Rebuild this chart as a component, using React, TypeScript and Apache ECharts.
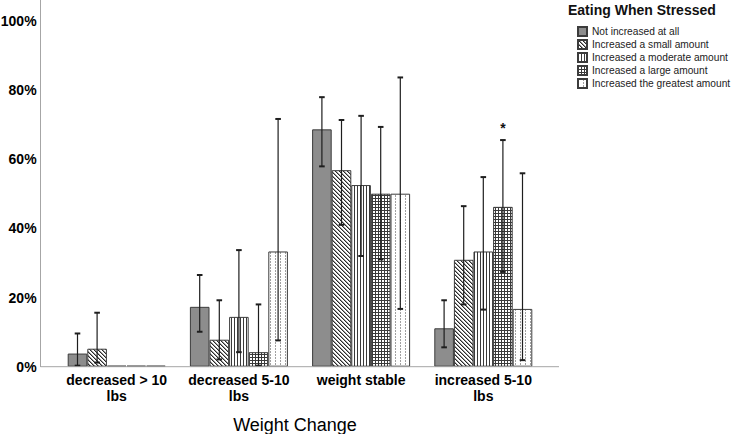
import React, { useEffect, useRef } from "react";
import * as echarts from "echarts";

const categories = ["decreased > 10\nlbs", "decreased 5-10\nlbs", "weight stable", "increased 5-10\nlbs"];
const seriesNames = [
  "Not increased at all",
  "Increased a small amount",
  "Increased a moderate amount",
  "Increased a large amount",
  "Increased the greatest amount",
];
const notIncreased = [3.8, 17.3, 68.6, 11.1];
const smallAmount = [5.2, 7.8, 56.8, 30.9];
const moderateAmount = [0, 14.4, 52.5, 33.3];
const largeAmount = [0, 4.2, 50.0, 46.2];
const greatestAmount = [0, 33.3, 50.0, 16.7];

const notIncreasedCI = [[0.3, 9.6], [10.1, 26.5], [57.9, 77.9], [5.6, 19.2]];
const smallCI = [[1.2, 15.6], [2.1, 19.2], [41.0, 71.3], [18.0, 46.4]];
const moderateCI = [null, [4.2, 33.7], [32.0, 72.5], [16.5, 54.8]];
const largeCI = [null, [0.3, 18.0], [31.0, 69.3], [27.4, 65.5]];
const greatestCI = [null, [7.6, 71.6], [16.7, 83.6], [1.9, 55.9]];

const significance = [
  ["", "", "", ""],
  ["", "", "", ""],
  ["", "", "", ""],
  ["", "", "", "*"],
  ["", "", "", ""],
];

const FONT = "'Liberation Sans', Arial, sans-serif";
const BAR_W = 19.6;

function makePattern(w: number, h: number, pixels: [number, number, string][], bg = "#ffffff") {
  const c = document.createElement("canvas");
  c.width = w;
  c.height = h;
  const ctx = c.getContext("2d")!;
  ctx.fillStyle = bg;
  ctx.fillRect(0, 0, w, h);
  for (const [x, y, col] of pixels) {
    ctx.fillStyle = col;
    ctx.fillRect(x, y, 1, 1);
  }
  return { image: c.toDataURL(), imageWidth: w, imageHeight: h, repeat: "repeat" };
}

export default function App() {
  const ref = useRef<HTMLDivElement>(null);
  useEffect(() => {
    document.body.style.margin = "0";
    const chart = echarts.init(ref.current!, null, { renderer: "svg" });

    const diag: [number, number, string][] = [];
    for (let i = 0; i < 4; i++) {
      diag.push([i, i, "#2a2a2a"]);
      diag.push([(i + 1) % 4, i, "#9a9a9a"]);
    }
    const vert: [number, number, string][] = [[0, 0, "#3a3a3a"]];
    const grid: [number, number, string][] = [
      [0, 0, "#3a3a3a"], [1, 0, "#3a3a3a"], [2, 0, "#3a3a3a"], [0, 1, "#3a3a3a"], [0, 2, "#3a3a3a"],
    ];
    const dots: [number, number, string][] = [[0, 0, "#a0a0a0"], [0, 1, "#a0a0a0"]];

    const fills: any[] = [
      "#8d8d8d",
      makePattern(4, 4, diag),
      makePattern(3, 1, vert),
      makePattern(3, 3, grid),
      makePattern(5, 3, dots),
    ];
    const values = [notIncreased, smallAmount, moderateAmount, largeAmount, greatestAmount];
    const cis = [notIncreasedCI, smallCI, moderateCI, largeCI, greatestCI];

    const barSeries = seriesNames.map((name, si) => ({
      name,
      type: "bar",
      data: values[si],
      barWidth: BAR_W,
      barGap: "0%",
      barMinHeight: 1,
      itemStyle: { color: fills[si], borderColor: "#3c3c3c", borderWidth: 1 },
      z: 2,
    }));

    const errSeries = seriesNames.map((name, si) => ({
      type: "custom",
      name: name + " CI",
      z: 5,
      encode: { x: 0, y: [1, 2] },
      data: cis[si]
        .map((ci, ci_i) => (ci ? [ci_i, ci[0], ci[1]] : null))
        .filter((d) => d !== null),
      renderItem: (params: any, api: any) => {
        const cat = api.value(0);
        const lo = api.coord([cat, api.value(1)]);
        const hi = api.coord([cat, api.value(2)]);
        const x = lo[0] + (si - 2) * BAR_W;
        const st = { stroke: "#1e1e1e", lineWidth: 1.2 };
        const cap = { stroke: "#1e1e1e", lineWidth: 2 };
        const children: any[] = [
          { type: "line", shape: { x1: x, y1: hi[1], x2: x, y2: lo[1] }, style: st },
          { type: "line", shape: { x1: x - 2.8, y1: hi[1], x2: x + 2.8, y2: hi[1] }, style: cap },
          { type: "line", shape: { x1: x - 2.8, y1: lo[1], x2: x + 2.8, y2: lo[1] }, style: cap },
        ];
        const mark = significance[si][cat];
        if (mark) {
          children.push({
            type: "text",
            x,
            y: hi[1] - 12,
            style: {
              text: mark,
              fill: "#111",
              font: `bold 14px ${FONT}`,
              align: "center",
              verticalAlign: "middle",
            },
          });
        }
        return { type: "group", children };
      },
    }));

    chart.setOption({
      animation: false,
      backgroundColor: "#ffffff",
      title: {
        text: "Eating When Stressed",
        left: 568,
        top: 3,
        padding: 0,
        textStyle: { fontFamily: FONT, fontSize: 14, fontWeight: "bold", color: "#111" },
      },
      legend: {
        data: seriesNames,
        orient: "vertical",
        left: 577,
        top: 25,
        padding: 0,
        itemGap: 0,
        itemWidth: 9,
        itemHeight: 9,
        icon: "rect",
        selectedMode: false,
        textStyle: { fontFamily: FONT, fontSize: 10.2, color: "#222", lineHeight: 13 },
      },
      grid: {
        left: 55.6,
        right: 186.6,
        top: 20.7,
        bottom: 67.3,
        containLabel: false,
        outerBoundsMode: "none",
      },
      xAxis: {
        type: "category",
        data: categories,
        axisLine: { show: false },
        axisTick: { show: false },
        axisLabel: {
          interval: 0,
          margin: 5.2,
          fontFamily: FONT,
          fontSize: 14,
          fontWeight: "bold",
          lineHeight: 15.8,
          color: "#000",
        },
        name: "Weight Change",
        nameLocation: "middle",
        nameGap: 49.3,
        nameTextStyle: { fontFamily: FONT, fontSize: 18, color: "#000", padding: [0, 10, 0, 0] },
      },
      yAxis: {
        type: "value",
        min: 0,
        max: 100,
        interval: 20,
        offset: 15,
        axisLine: { show: false },
        axisTick: { show: false },
        splitLine: { show: false },
        axisLabel: {
          formatter: "{value}%",
          margin: 4,
          fontFamily: FONT,
          fontSize: 14,
          fontWeight: "bold",
          color: "#000",
        },
      },
      graphic: [
        {
          type: "line",
          shape: { x1: 40.5, y1: 0, x2: 40.5, y2: 367 },
          style: { stroke: "#a6a6a6", lineWidth: 1 },
          z: 10,
        },
        {
          type: "line",
          shape: { x1: 40.5, y1: 366.7, x2: 559, y2: 366.7 },
          style: { stroke: "#a6a6a6", lineWidth: 1 },
          z: 10,
        },
      ],
      series: [...barSeries, ...errSeries],
    });
    return () => chart.dispose();
  }, []);
  return (
    <div
      ref={ref}
      style={{ position: "fixed", left: 0, top: 0, width: 731, height: 434, background: "#fff" }}
    />
  );
}
